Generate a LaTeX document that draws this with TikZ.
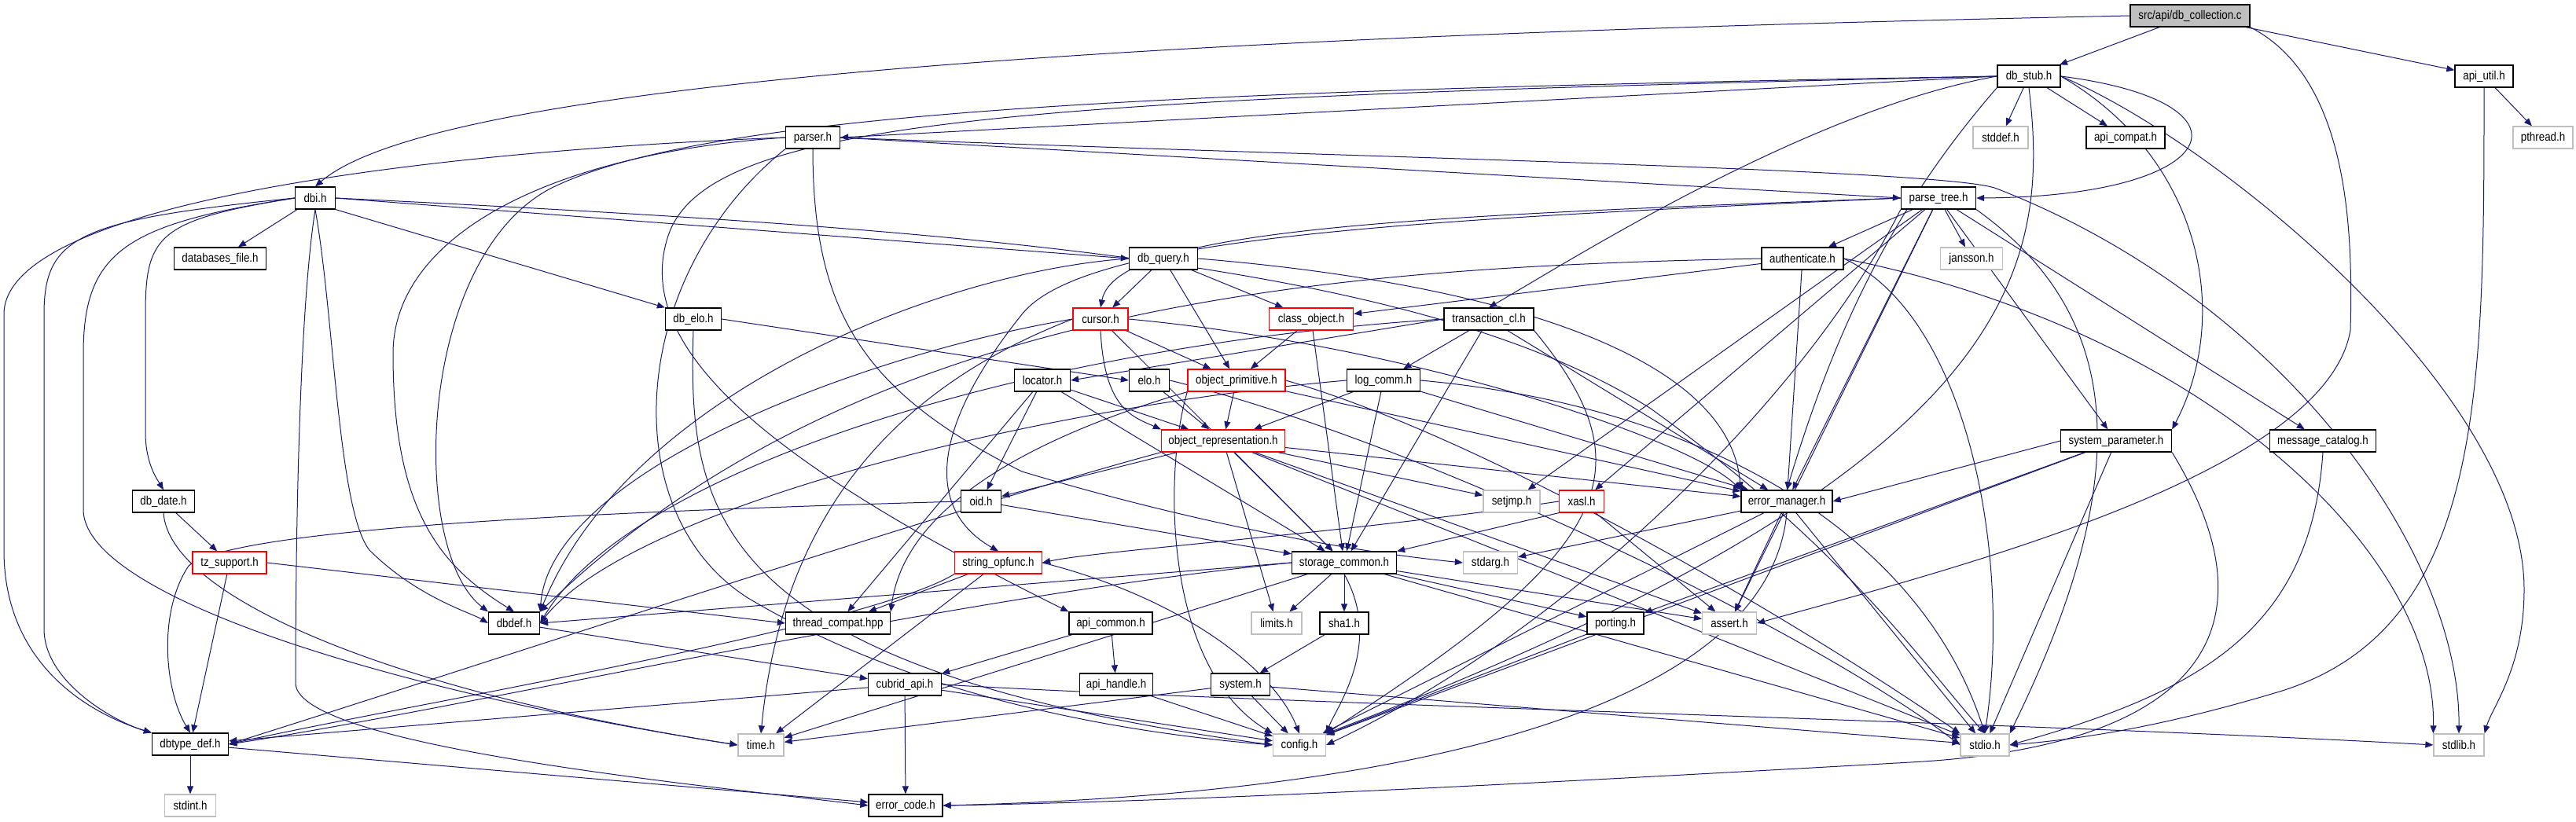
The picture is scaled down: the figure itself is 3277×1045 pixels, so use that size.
\documentclass[tikz,border=0pt]{standalone}
\usepackage{fontspec}
\setmainfont{Liberation Sans}
\usetikzlibrary{arrows.meta,backgrounds}
\definecolor{edgeblue}{HTML}{191970}
\definecolor{gry}{HTML}{BFBFBF}
\tikzset{
 hb/.style={draw=black, line width=1.3pt, fill=white, minimum height=28pt, inner sep=0pt, font=\fontsize{15.5}{16}\selectfont},
 hg/.style={hb, draw=gry},
 hr/.style={hb, draw=red},
 hroot/.style={hb, fill=gry},
 e/.style={draw=edgeblue, line width=1pt, -{Triangle[length=10pt,width=8pt]}},
}
\newcommand\hn[6]{\node[#5, minimum width=#4pt] (#1) at (#2,#3) {\scalebox{0.86}[1]{#6}};}
\begin{document}
\begin{tikzpicture}[x=1pt,y=-1pt]
\useasboundingbox (0,0) rectangle (3277,1045);
\hn{dbc}{2786}{20}{152}{hroot}{src/api/db\_collection.c}
\hn{db_stub}{2581}{97}{80}{hb}{db\_stub.h}
\hn{stddef}{2545}{175}{70}{hg}{stddef.h}
\hn{api_compat}{2704}{175}{100}{hb}{api\_compat.h}
\hn{api_util}{3160}{97}{74}{hb}{api\_util.h}
\hn{pthread}{3235}{175}{76}{hg}{pthread.h}
\hn{parse_tree}{2466}{252}{95}{hb}{parse\_tree.h}
\hn{jansson}{2508}{329}{79}{hg}{jansson.h}
\hn{authenticate}{2293}{329}{104}{hb}{authenticate.h}
\hn{dbi}{401}{252}{51}{hb}{dbi.h}
\hn{databases_file}{280}{329}{117}{hb}{databases\_file.h}
\hn{parser}{1034}{175}{69}{hb}{parser.h}
\hn{db_query}{1480}{329}{87}{hb}{db\_query.h}
\hn{db_elo}{882}{406}{71}{hb}{db\_elo.h}
\hn{cursor}{1400}{406}{70}{hr}{cursor.h}
\hn{class_object}{1668}{406}{107}{hr}{class\_object.h}
\hn{transaction_cl}{1894}{406}{114}{hb}{transaction\_cl.h}
\hn{locator}{1326}{484}{71}{hb}{locator.h}
\hn{elo}{1462}{484}{51}{hb}{elo.h}
\hn{object_primitive}{1573}{484}{124}{hr}{object\_primitive.h}
\hn{log_comm}{1760}{484}{93}{hb}{log\_comm.h}
\hn{object_representation}{1556}{561}{157}{hr}{object\_representation.h}
\hn{system_parameter}{2692}{561}{141}{hb}{system\_parameter.h}
\hn{message_catalog}{2955}{561}{135}{hb}{message\_catalog.h}
\hn{oid}{1248}{638}{51}{hb}{oid.h}
\hn{setjmp}{1923}{638}{72}{hg}{setjmp.h}
\hn{xasl}{2012}{638}{57}{hr}{xasl.h}
\hn{error_manager}{2273}{638}{116}{hb}{error\_manager.h}
\hn{db_date}{208}{638}{79}{hb}{db\_date.h}
\hn{tz_support}{292}{716}{94}{hr}{tz\_support.h}
\hn{string_opfunc}{1270}{716}{111}{hr}{string\_opfunc.h}
\hn{storage_common}{1710}{716}{133}{hb}{storage\_common.h}
\hn{stdarg}{1896}{716}{69}{hg}{stdarg.h}
\hn{dbdef}{654}{793}{65}{hb}{dbdef.h}
\hn{thread_compat}{1066}{793}{133}{hb}{thread\_compat.hpp}
\hn{api_common}{1413}{793}{106}{hb}{api\_common.h}
\hn{limits}{1624}{793}{64}{hg}{limits.h}
\hn{sha1}{1710}{793}{62}{hb}{sha1.h}
\hn{porting}{2055}{793}{72}{hb}{porting.h}
\hn{assert}{2200}{793}{69}{hg}{assert.h}
\hn{cubrid_api}{1151}{871}{93}{hb}{cubrid\_api.h}
\hn{api_handle}{1420}{871}{93}{hb}{api\_handle.h}
\hn{system}{1578}{871}{75}{hb}{system.h}
\hn{dbtype_def}{242}{947}{97}{hb}{dbtype\_def.h}
\hn{time}{968}{948}{58}{hg}{time.h}
\hn{config}{1653}{948}{67}{hg}{config.h}
\hn{stdio}{2525}{948}{62}{hg}{stdio.h}
\hn{stdlib}{3128}{948}{64}{hg}{stdlib.h}
\hn{stdint}{242}{1025}{65}{hg}{stdint.h}
\hn{error_code}{1152}{1025}{94}{hb}{error\_code.h}
\begin{pgfonlayer}{background}
% root
\draw[e] (dbc) -- (db_stub);
\draw[e] (dbc) -- (api_util);
\draw[e] (dbc.west) .. controls (1500,45) and (560,100) .. (dbi.north);
\draw[e] (dbc.south east) .. controls (2990,100) and (2993,300) .. (2990,420) .. controls (2960,600) and (2500,720) .. (assert.east);
\draw[e] (api_util) -- (pthread);
\draw[e] (api_util.south) .. controls (3160,500) and (3160,800) .. (2900,880) .. controls (2750,925) and (2650,940) .. (stdio.east);
% db_stub
\draw[e] (db_stub) -- (stddef);
\draw[e] (db_stub) -- (api_compat);
\draw[e] (db_stub.west) -- (parser.east);
\draw[e] (db_stub.east) .. controls (2880,130) and (2830,250) .. (parse_tree.east);
\draw[e] (db_stub.west) .. controls (2300,140) and (2000,330) .. (transaction_cl.north);
\draw[e] (db_stub.south west) .. controls (2420,250) and (2340,400) .. (error_manager.north);
\draw[e] (db_stub.west) .. controls (1500,115) and (900,140) .. (700,240) .. controls (530,330) and (520,700) .. (dbdef.north west);
\draw[e] (db_stub.west) .. controls (1300,125) and (900,150) .. (850,300) .. controls (800,450) and (1000,600) .. (api_common.north west);
\draw[e] (db_stub.east) .. controls (2820,180) and (3211,500) .. (3211,750) .. controls (3211,850) and (3170,900) .. (stdlib.north east);
\draw[e] (db_stub.east) .. controls (2800,200) and (2840,400) .. (system_parameter.north east);
\draw[e] (db_stub.south) .. controls (2610,350) and (2560,600) .. (config.north east);
% parser
\draw[e] (parser.east) -- (parse_tree.west);
\draw[e] (parser.west) .. controls (600,190) and (5,250) .. (5,400) -- (5,700) .. controls (5,850) and (120,910) .. (dbtype_def.north west);
\draw[e] (parser.west) .. controls (700,195) and (500,300) .. (500,450) .. controls (500,650) and (560,720) .. (dbdef.north);
\draw[e] (parser.south) .. controls (1034,400) and (1100,500) .. (1300,600) .. controls (1500,660) and (1700,700) .. (stdarg.west);
\draw[e] (parser.east) .. controls (1700,200) and (2480,215) .. (2540,240) .. controls (2900,380) and (3130,700) .. (stdlib.north);
\draw[e] (parser.south west) .. controls (800,350) and (780,650) .. (950,760) .. controls (1150,880) and (1400,930) .. (config.west);
% dbi
\draw[e] (dbi) -- (databases_file);
\draw[e] (dbi.east) -- (db_query.west);
\draw[e] (dbi.south east) -- (db_elo.north west);
\draw[e] (dbi.west) .. controls (200,280) and (185,300) .. (185,400) -- (185,550) .. controls (185,590) and (200,610) .. (db_date.north);
\draw[e] (dbi.west) .. controls (100,280) and (56,300) .. (56,400) -- (56,800) .. controls (56,870) and (150,920) .. (dbtype_def.north west);
\draw[e] (dbi.west) .. controls (160,285) and (106,320) .. (106,450) -- (106,650) .. controls (110,760) and (500,880) .. (time.west);
\draw[e] (dbi.south) .. controls (380,400) and (376,700) .. (376,870) .. controls (380,950) and (900,1000) .. (error_code.west);
\draw[e] (dbi.south) .. controls (425,400) and (430,650) .. (470,700) .. controls (530,760) and (600,780) .. (dbdef.west);
\draw[e] (dbi.east) .. controls (1200,290) and (1800,330) .. (2100,520) .. controls (2350,700) and (2450,850) .. (stdio.north);
% parse_tree
\draw[e] (parse_tree) -- (jansson);
\draw[e] (parse_tree) -- (authenticate);
\draw[e] (parse_tree.west) .. controls (1800,275) and (1420,290) .. (cursor.north);
\draw[e] (parse_tree.west) .. controls (1800,280) and (1380,300) .. (1300,400) .. controls (1180,550) and (1180,650) .. (string_opfunc.north);
\draw[e] (parse_tree) -- (setjmp);
\draw[e] (parse_tree) -- (xasl);
\draw[e] (parse_tree) -- (system_parameter);
\draw[e] (parse_tree) -- (message_catalog);
\draw[e] (parse_tree) -- (error_manager);
\draw[e] (parse_tree) -- (assert);
\draw[e] (parse_tree.south west) .. controls (2300,500) and (2000,800) .. (config.east);
\draw[e] (parse_tree.south east) .. controls (2700,400) and (2720,600) .. (stdio.north east);
% db_query
\draw[e] (db_query) -- (cursor);
\draw[e] (db_query) -- (object_primitive);
\draw[e] (db_query) -- (class_object);
\draw[e] (db_query.east) .. controls (1900,360) and (2200,450) .. (error_manager.north west);
\draw[e] (db_query.west) .. controls (1200,345) and (800,500) .. (dbdef.north east);
% authenticate
\draw[e] (authenticate) -- (class_object);
\draw[e] (authenticate) -- (error_manager);
\draw[e] (authenticate.east) .. controls (2800,420) and (3100,700) .. (stdlib.north west);
\draw[e] (authenticate.east) .. controls (2500,400) and (2560,700) .. (stdio.north);
\draw[e] (authenticate.west) .. controls (1700,340) and (1100,380) .. (dbdef.north east);
% db_elo
\draw[e] (db_elo.east) -- (elo.west);
\draw[e] (db_elo.south) .. controls (875,650) and (900,850) .. (config.west);
% cursor
\draw[e] (cursor) -- (object_primitive);
\draw[e] (cursor.south) .. controls (1405,520) and (1440,530) .. (object_representation.north west);
\draw[e] (cursor.east) .. controls (1800,440) and (2150,560) .. (error_manager.north west);
\draw[e] (cursor.west) .. controls (1100,450) and (700,600) .. (dbdef.north east);
\draw[e] (cursor) -- (storage_common);
\draw[e] (cursor.west) .. controls (1200,470) and (1000,600) .. (time.north);
% class_object
\draw[e] (class_object) -- (object_primitive);
\draw[e] (class_object) -- (storage_common);
% transaction_cl
\draw[e] (transaction_cl.west) -- (locator.east);
\draw[e] (transaction_cl) -- (log_comm);
\draw[e] (transaction_cl) -- (storage_common);
\draw[e] (transaction_cl) -- (error_manager);
\draw[e] (transaction_cl.south east) .. controls (2100,600) and (2050,700) .. (config.north east);
\draw[e] (transaction_cl.west) .. controls (1300,440) and (800,600) .. (dbdef.east);
% locator
\draw[e] (locator) -- (object_representation);
\draw[e] (locator) -- (oid);
\draw[e] (locator) -- (storage_common);
\draw[e] (locator) -- (thread_compat);
% elo
\draw[e] (elo) -- (object_representation);
\draw[e] (elo.east) .. controls (1800,560) and (2300,800) .. (stdio.west);
% object_primitive
\draw[e] (object_primitive) -- (object_representation);
\draw[e] (object_primitive.south west) .. controls (1300,560) and (1150,650) .. (thread_compat.north east);
\draw[e] (object_primitive.south west) .. controls (1480,600) and (1480,850) .. (config.north west);
\draw[e] (object_primitive) -- (error_manager);
\draw[e] (object_primitive.east) .. controls (1900,560) and (2300,800) .. (stdio.north west);
% log_comm
\draw[e] (log_comm) -- (object_representation);
\draw[e] (log_comm) -- (storage_common);
\draw[e] (log_comm) -- (error_manager);
\draw[e] (log_comm.east) .. controls (2200,520) and (2450,700) .. (stdio.north);
\draw[e] (log_comm.west) .. controls (1300,520) and (800,650) .. (dbdef.east);
% object_representation
\draw[e] (object_representation) -- (oid);
\draw[e] (object_representation) -- (setjmp);
\draw[e] (object_representation) -- (limits);
\draw[e] (object_representation) -- (storage_common);
\draw[e] (object_representation) -- (error_manager);
\draw[e] (object_representation) -- (assert);
\draw[e] (object_representation.south west) .. controls (1200,650) and (600,850) .. (dbtype_def.east);
\draw[e] (object_representation) -- (stdio);
% oid
\draw[e] (oid.west) .. controls (800,650) and (300,670) .. (240,720) .. controls (200,780) and (210,880) .. (dbtype_def.north);
\draw[e] (oid) -- (storage_common);
% xasl
\draw[e] (xasl.south west) -- (storage_common.north east);
\draw[e] (xasl.west) .. controls (1700,680) and (1400,700) .. (string_opfunc.east);
\draw[e] (xasl) -- (assert);
% error_manager
\draw[e] (error_manager) -- (stdarg);
\draw[e] (error_manager) -- (assert);
\draw[e] (error_manager) -- (config);
\draw[e] (error_manager) -- (stdio);
\draw[e] (error_manager.south) .. controls (2250,900) and (1800,1010) .. (error_code.east);
% system_parameter
\draw[e] (system_parameter.west) -- (error_manager.east);
\draw[e] (system_parameter) -- (porting);
\draw[e] (system_parameter) -- (config);
\draw[e] (system_parameter) -- (stdio);
\draw[e] (system_parameter.south east) .. controls (2900,800) and (2800,950) .. (2430,970) .. controls (1900,1000) and (1500,1020) .. (error_code.east);
% message_catalog
\draw[e] (message_catalog.south) .. controls (2940,800) and (2800,880) .. (stdio.east);
% db_date
\draw[e] (db_date) -- (tz_support);
\draw[e] (db_date.south) .. controls (215,760) and (500,880) .. (time.west);
% tz_support
\draw[e] (tz_support) -- (dbtype_def);
\draw[e] (tz_support.east) -- (thread_compat.west);
% string_opfunc
\draw[e] (string_opfunc) -- (thread_compat);
\draw[e] (string_opfunc.east) .. controls (1500,760) and (1620,850) .. (config.north);
\draw[e] (string_opfunc.south west) .. controls (1100,800) and (500,900) .. (dbtype_def.east);
\draw[e] (string_opfunc) -- (time);
% storage_common
\draw[e] (storage_common.west) -- (dbdef.east);
\draw[e] (storage_common) -- (limits);
\draw[e] (storage_common) -- (sha1);
\draw[e] (storage_common.south) .. controls (1760,820) and (1700,900) .. (config.north east);
\draw[e] (storage_common) -- (porting);
\draw[e] (storage_common) -- (assert);
\draw[e] (storage_common) -- (stdio);
\draw[e] (storage_common.west) .. controls (1200,760) and (600,900) .. (dbtype_def.east);
\draw[e] (storage_common) -- (time);
% misc
\draw[e] (api_common) -- (api_handle);
\draw[e] (api_common) -- (cubrid_api);
\draw[e] (dbdef) -- (cubrid_api);
\draw[e] (cubrid_api) -- (error_code);
\draw[e] (cubrid_api) -- (dbtype_def);
\draw[e] (cubrid_api) -- (config);
\draw[e] (cubrid_api.east) .. controls (1600,895) and (2600,920) .. (stdlib.west);
\draw[e] (api_handle) -- (config);
\draw[e] (sha1) -- (system);
\draw[e] (system) -- (time);
\draw[e] (system) -- (config);
\draw[e] (system) -- (stdio);
\draw[e] (porting) -- (config);
\draw[e] (dbtype_def) -- (stdint);
\draw[e] (dbtype_def) -- (error_code);
\end{pgfonlayer}
\end{tikzpicture}
\end{document}
